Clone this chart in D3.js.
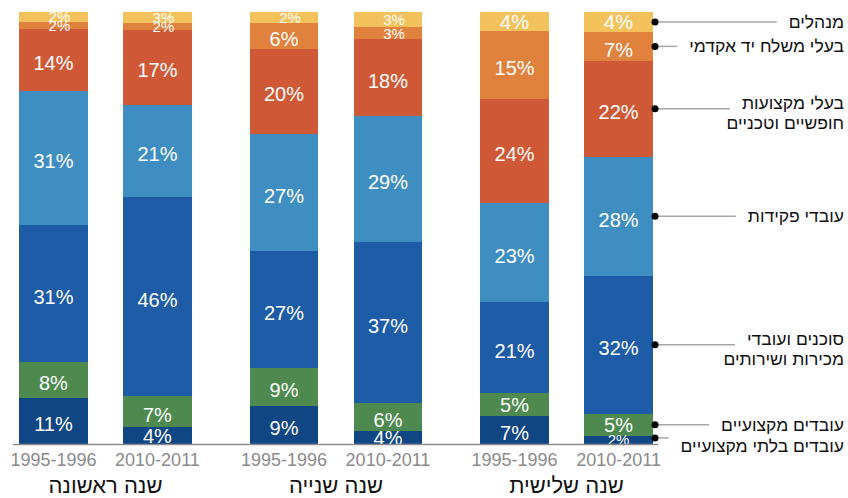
<!DOCTYPE html>
<html>
<head>
<meta charset="utf-8">
<script src="https://cdn.jsdelivr.net/npm/d3@7"></script>
<style>
  html, body { margin: 0; padding: 0; background: #fff; }
  svg { display: block; font-family: "Liberation Sans", Arial, sans-serif; }
</style>
</head>
<body>
<svg id="chart" width="848" height="498"></svg>
<script>
// ---- Data ----
const groups = ["שנה ראשונה", "שנה שנייה", "שנה שלישית"];
const periods = ["1995-1996", "2010-2011"];
const categories = [
  "עובדים בלתי מקצועיים",
  "עובדים מקצועיים",
  "סוכנים ועובדי מכירות ושירותים",
  "עובדי פקידות",
  "בעלי מקצועות חופשיים וטכניים",
  "בעלי משלח יד אקדמי",
  "מנהלים"
];
const legendLines = [
  ["עובדים בלתי מקצועיים"],
  ["עובדים מקצועיים"],
  ["סוכנים ועובדי", "מכירות ושירותים"],
  ["עובדי פקידות"],
  ["בעלי מקצועות", "חופשיים וטכניים"],
  ["בעלי משלח יד אקדמי"],
  ["מנהלים"]
];
// bar order: [g1 95-96, g1 10-11, g2 95-96, g2 10-11, g3 95-96, g3 10-11]
const unskilled     = [10.6, 3.9, 8.8, 3.0, 6.5, 1.9];
const skilled       = [8.3, 7.2, 8.8, 6.5, 5.3, 5.1];
const salesService  = [31.7, 46.1, 27.1, 37.3, 21.1, 31.9];
const clerical      = [31.0, 21.3, 27.1, 29.2, 22.9, 27.5];
const professional  = [14.4, 17.4, 19.7, 17.8, 24.1, 22.2];
const academic      = [1.6, 1.6, 6.0, 2.8, 15.7, 6.7];
const managers      = [2.3, 2.5, 2.5, 3.5, 4.4, 4.6];
// printed labels (%)
const unskilledLbl    = [11, 4, 9, 4, 7, 2];
const skilledLbl      = [8, 7, 9, 6, 5, 5];
const salesServiceLbl = [31, 46, 27, 37, 21, 32];
const clericalLbl     = [31, 21, 27, 29, 23, 28];
const professionalLbl = [14, 17, 20, 18, 24, 22];
const academicLbl     = [2, 2, 6, 3, 15, 7];
const managersLbl     = [2, 3, 2, 3, 4, 4];

const seriesValues = [unskilled, skilled, salesService, clerical, professional, academic, managers];
const seriesLabels = [unskilledLbl, skilledLbl, salesServiceLbl, clericalLbl, professionalLbl, academicLbl, managersLbl];
const colors = ["#0f4683", "#4e8a50", "#1e5ca7", "#3f8ec1", "#cf5936", "#e0813d", "#f4c25c"];

// ---- Build table ----
const rows = [];
groups.forEach((g, gi) => periods.forEach((p, pi) => {
  const idx = gi * 2 + pi;
  const r = { group: g, period: p, idx };
  categories.forEach((c, ci) => { r[c] = seriesValues[ci][idx]; });
  rows.push(r);
}));

const stack = d3.stack().keys(categories).offset(d3.stackOffsetExpand);
const stacked = stack(rows);

// ---- Scales ----
const svg = d3.select("#chart");
const plotTop = 12, plotBottom = 444;
const x0 = d3.scaleBand().domain(groups).range([19, 653]).paddingInner(0.25).paddingOuter(0);
const x1 = d3.scaleBand().domain(periods).range([0, x0.bandwidth()]).paddingInner(0.337).paddingOuter(0);
const y = d3.scaleLinear().domain([0, 1]).range([plotBottom, plotTop]);
const color = d3.scaleOrdinal().domain(categories).range(colors);
const barX = d => x0(d.data.group) + x1(d.data.period);

// ---- Bars ----
const layers = svg.append("g").selectAll("g")
  .data(stacked).join("g")
  .attr("fill", d => color(d.key));

layers.selectAll("rect")
  .data(d => d).join("rect")
  .attr("x", barX)
  .attr("y", d => y(d[1]))
  .attr("width", x1.bandwidth())
  .attr("height", d => y(d[0]) - y(d[1]))
  .attr("shape-rendering", "crispEdges");

// ---- Labels ----
const segH = d => y(d[0]) - y(d[1]);
const isSmall = (li, d) => seriesLabels[li][d.data.idx] <= 3 && segH(d) < 20;
svg.append("g").selectAll("g")
  .data(stacked).join("g")
  .each(function(layer, li) {
    d3.select(this).selectAll("text")
      .data(layer).join("text")
      .attr("x", d => barX(d) + x1.bandwidth() / 2 + (isSmall(li, d) && li >= 5 ? 6 : 0))
      .attr("y", d => (y(d[0]) + y(d[1])) / 2 + (segH(d) >= 25 ? 3 : 0))
      .attr("dy", "0.36em")
      .attr("text-anchor", "middle")
      .attr("fill", "#ffffff")
      .attr("font-size", d => isSmall(li, d) ? 15 : 20)
      .text(d => seriesLabels[li][d.data.idx] + "%");
  });

// ---- X axis ----
svg.append("line")
  .attr("x1", 13).attr("x2", 658)
  .attr("y1", plotBottom + 0.5).attr("y2", plotBottom + 0.5)
  .attr("stroke", "#8c8c8c").attr("stroke-width", 1.5);

const gAxis = svg.append("g");
groups.forEach(g => {
  const xa = d3.axisBottom(x1).tickSize(0).tickPadding(0);
  const ga = gAxis.append("g")
    .attr("transform", `translate(${x0(g)},${plotBottom})`)
    .call(xa);
  ga.select(".domain").remove();
  ga.selectAll("text")
    .attr("y", 22)
    .attr("dy", 0)
    .attr("fill", "#8a8a8a")
    .attr("font-size", 18)
    .attr("font-family", "\"Liberation Sans\", Arial, sans-serif");
});

svg.append("g").selectAll("text")
  .data(groups).join("text")
  .attr("x", d => x0(d) + x0.bandwidth() / 2)
  .attr("y", 493)
  .attr("text-anchor", "middle")
  .attr("fill", "#111")
  .attr("font-size", 22)
  .text(d => d);

// ---- Legend (leaders from last bar) ----
const lastBar = rows.length - 1;
const textRight = 844;
const leg = svg.append("g");
stacked.forEach((layer, li) => {
  const seg = layer[lastBar];
  let cy = (y(seg[0]) + y(seg[1])) / 2;
  if (li === 0) cy -= 2;
  const lines = legendLines[li];
  const g = leg.append("g");
  let baseline;
  if (lines.length === 1) {
    baseline = cy + 6 + (li === 0 ? 8 : 0);
  } else {
    baseline = cy + 0;
  }
  const texts = g.selectAll("text").data(lines).join("text")
    .attr("x", textRight)
    .attr("y", (d, i) => baseline + i * 20)
    .attr("text-anchor", "end")
    .attr("font-size", 17.5)
    .attr("fill", "#111")
    .text(d => d);
  const w = texts.nodes()[0].getComputedTextLength();
  const lineEnd = textRight - w - 12;
  g.insert("line", "text")
    .attr("x1", 655).attr("x2", lineEnd)
    .attr("y1", cy).attr("y2", cy)
    .attr("stroke", "#a6a6a6").attr("stroke-width", 1.5);
  g.append("circle")
    .attr("cx", 655).attr("cy", cy).attr("r", 3.5)
    .attr("fill", "#000");
});
</script>
</body>
</html>
